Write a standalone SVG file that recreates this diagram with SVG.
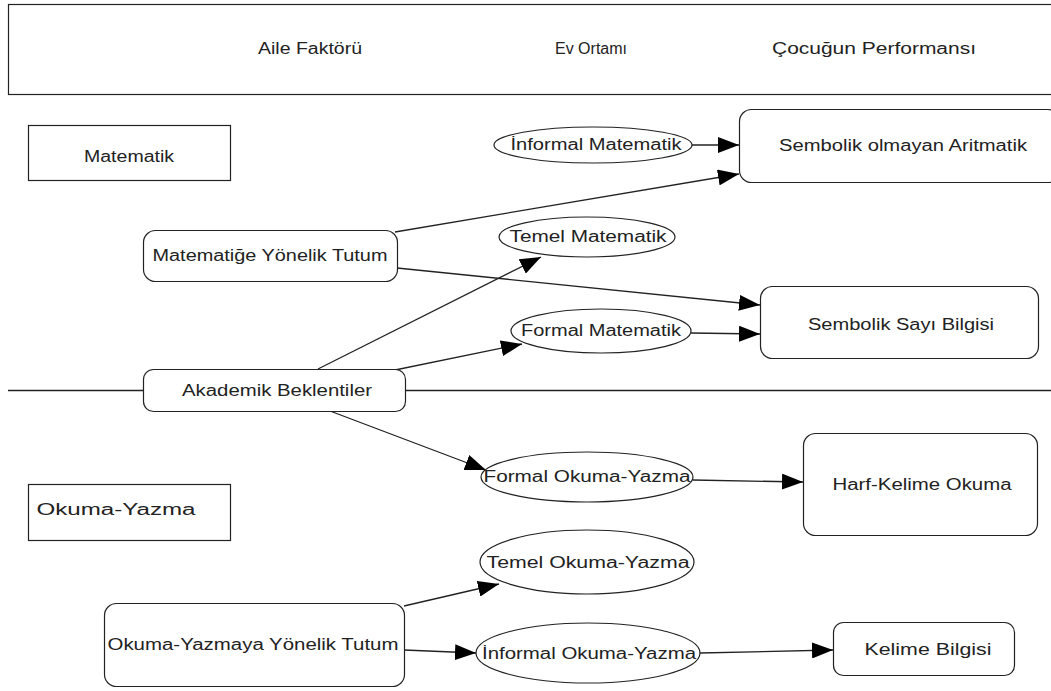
<svg xmlns="http://www.w3.org/2000/svg" width="1051" height="691" viewBox="0 0 1051 691">
<style>
.box{fill:#fff;stroke:#222;stroke-width:1.2}
.ell{fill:#fff;stroke:#222;stroke-width:1.2}
.t{font-family:"Liberation Sans",Arial,sans-serif;font-size:16px;fill:#222;text-anchor:middle}
.c{stroke:#222;stroke-width:1.3;fill:none;marker-end:url(#ah)}
</style>
<defs>
<marker id="ah" markerUnits="userSpaceOnUse" markerWidth="22" markerHeight="16" refX="21" refY="8" orient="auto">
<path d="M0,0 L21,8 L0,16 Z" fill="#000"/>
</marker>
</defs>
<rect width="1051" height="691" fill="#fff"/>
<g id="header">
<rect class="box" x="8.5" y="4.5" width="1050" height="90"/>
<text class="t" x="310" y="54" textLength="104" lengthAdjust="spacingAndGlyphs">Aile Faktörü</text>
<text class="t" x="591" y="54">Ev Ortamı</text>
<text class="t" x="874" y="54" textLength="204" lengthAdjust="spacingAndGlyphs">Çocuğun Performansı</text>
</g>
<g id="divider">
<line x1="8" y1="390.5" x2="1051" y2="390.5" stroke="#222" stroke-width="1.3"/>
</g>
<g id="connectors">
<line class="c" x1="692" y1="145" x2="739" y2="145"/>
<line class="c" x1="395" y1="232" x2="739" y2="174"/>
<line class="c" x1="397" y1="268" x2="760" y2="305"/>
<line class="c" x1="691" y1="333" x2="760" y2="334"/>
<line class="c" x1="318" y1="369" x2="541" y2="257"/>
<line class="c" x1="395" y1="370" x2="522" y2="344"/>
<line class="c" x1="330" y1="411" x2="486" y2="470"/>
<line class="c" x1="693" y1="480" x2="803" y2="482"/>
<line class="c" x1="404" y1="606" x2="499" y2="584"/>
<line class="c" x1="404" y1="650" x2="476" y2="653"/>
<line class="c" x1="700" y1="653" x2="833" y2="650"/>
</g>
<g id="matematik">
<rect class="box" x="28.5" y="125.5" width="202" height="55"/>
<text class="t" x="129" y="162" textLength="90" lengthAdjust="spacingAndGlyphs">Matematik</text>
</g>
<g id="informal-matematik">
<ellipse class="ell" cx="593" cy="145" rx="99" ry="18"/>
<text class="t" x="596" y="150" textLength="171" lengthAdjust="spacingAndGlyphs">İnformal Matematik</text>
</g>
<g id="sembolik-olmayan">
<rect class="box" x="739.5" y="109.5" width="320" height="73" rx="12"/>
<text class="t" x="903" y="151" textLength="248" lengthAdjust="spacingAndGlyphs">Sembolik olmayan Aritmatik</text>
</g>
<g id="matematige-tutum">
<rect class="box" x="143.5" y="230.5" width="254" height="51" rx="12"/>
<text class="t" x="270" y="261" textLength="235" lengthAdjust="spacingAndGlyphs">Matematiğe Yönelik Tutum</text>
</g>
<g id="temel-matematik">
<ellipse class="ell" cx="587" cy="237" rx="88" ry="20"/>
<text class="t" x="588" y="242" textLength="157" lengthAdjust="spacingAndGlyphs">Temel Matematik</text>
</g>
<g id="formal-matematik">
<ellipse class="ell" cx="601" cy="331" rx="90" ry="22"/>
<text class="t" x="601" y="336" textLength="160" lengthAdjust="spacingAndGlyphs">Formal Matematik</text>
</g>
<g id="sembolik-sayi">
<rect class="box" x="760.5" y="286.5" width="278" height="72" rx="12"/>
<text class="t" x="901" y="330" textLength="186" lengthAdjust="spacingAndGlyphs">Sembolik Sayı Bilgisi</text>
</g>
<g id="akademik">
<rect class="box" x="143.5" y="369.5" width="262" height="42" rx="10"/>
<text class="t" x="277" y="396" textLength="190" lengthAdjust="spacingAndGlyphs">Akademik Beklentiler</text>
</g>
<g id="formal-okuma">
<ellipse class="ell" cx="587" cy="477" rx="106" ry="25"/>
<text class="t" x="587" y="482" textLength="207" lengthAdjust="spacingAndGlyphs">Formal Okuma-Yazma</text>
</g>
<g id="harf-kelime">
<rect class="box" x="803.5" y="433.5" width="234" height="102" rx="12"/>
<text class="t" x="922" y="490" textLength="179" lengthAdjust="spacingAndGlyphs">Harf-Kelime Okuma</text>
</g>
<g id="okuma-yazma">
<rect class="box" x="28.5" y="484.5" width="202" height="56"/>
<text class="t" x="116" y="515" textLength="159" lengthAdjust="spacingAndGlyphs">Okuma-Yazma</text>
</g>
<g id="temel-okuma">
<ellipse class="ell" cx="587" cy="562" rx="107" ry="32"/>
<text class="t" x="588" y="568" textLength="203" lengthAdjust="spacingAndGlyphs">Temel Okuma-Yazma</text>
</g>
<g id="okuma-tutum">
<rect class="box" x="104.5" y="603.5" width="300" height="83" rx="12"/>
<text class="t" x="253" y="650" textLength="291" lengthAdjust="spacingAndGlyphs">Okuma-Yazmaya Yönelik Tutum</text>
</g>
<g id="informal-okuma">
<ellipse class="ell" cx="588" cy="653" rx="112" ry="30"/>
<text class="t" x="589" y="659" textLength="214" lengthAdjust="spacingAndGlyphs">İnformal Okuma-Yazma</text>
</g>
<g id="kelime-bilgisi">
<rect class="box" x="833.5" y="622.5" width="181" height="53" rx="10"/>
<text class="t" x="928" y="655" textLength="127" lengthAdjust="spacingAndGlyphs">Kelime Bilgisi</text>
</g>
</svg>
